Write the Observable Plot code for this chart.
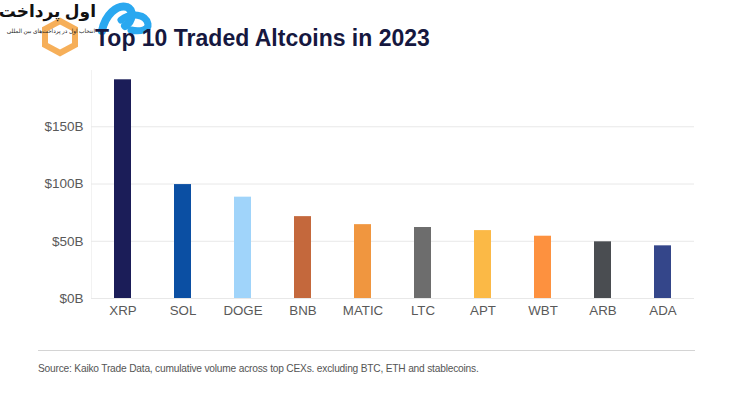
<!DOCTYPE html>
<html>
<head>
<meta charset="utf-8">
<script src="https://cdn.jsdelivr.net/npm/d3@7"></script>
<script src="https://cdn.jsdelivr.net/npm/@observablehq/plot@0.6"></script>
<style>
  html, body { margin: 0; padding: 0; background: #ffffff; }
  #page { position: relative; width: 738px; height: 410px; overflow: hidden; font-family: "Liberation Sans", Arial, sans-serif; }
  #title { position: absolute; left: 95px; top: 25px; font-size: 23px; font-weight: bold; color: #16183f; white-space: nowrap; z-index: 2; }
  #logo { position: absolute; left: 0; top: 0; z-index: 1; }
  #brand { position: absolute; left: 0; top: 0px; width: 96px; text-align: right; font-family: "Noto Sans", "DejaVu Sans", sans-serif; font-weight: bold; font-size: 17px; line-height: 22px; color: #111; direction: rtl; z-index: 4; white-space: nowrap; }
  #tagline { position: absolute; left: 2px; top: 27px; width: 93px; text-align: right; font-family: "Noto Sans", "DejaVu Sans", sans-serif; font-size: 5.8px; line-height: 8px; color: #222; direction: rtl; white-space: nowrap; z-index: 4; }
  #chart { position: absolute; left: 0; top: 50px; }
  #vline { position: absolute; left: 91px; top: 70px; width: 1px; height: 228px; background: #f2f2f2; }
  #rule { position: absolute; left: 38px; top: 350px; width: 657px; height: 1px; background: #d4d4d4; }
  #caption { position: absolute; left: 38px; top: 363px; font-size: 10.2px; color: #555; white-space: nowrap; letter-spacing: -0.2px; }
</style>
</head>
<body>
<div id="page">
  <svg id="logo" width="160" height="60" viewBox="0 0 160 60">
    <polygon points="60,21 75,29 75,45 60,53 45,45 45,29" fill="none" stroke="#f5a13c" stroke-width="6" opacity="0.85"/>
    <path d="M102,31 C105,15 117,4 127,7 C134,10 133,21 125,26" fill="none" stroke="#2aa8f0" stroke-width="8" stroke-linecap="round"/>
    <path d="M121,20 C131,12 146,14 148,24 C149,30 140,32 131,30" fill="none" stroke="#2aa8f0" stroke-width="7" stroke-linecap="round"/>
  </svg>
  <div id="brand">اول پرداخت</div>
  <div id="tagline">انتخاب اول در پرداخت‌های بین المللی</div>
  <div id="title">Top 10 Traded Altcoins in 2023</div>
  <div id="vline"></div>
  <div id="chart"></div>
  <div id="rule"></div>
  <div id="caption">Source: Kaiko Trade Data, cumulative volume across top CEXs. excluding BTC, ETH and stablecoins.</div>
</div>
<script>
const coins = ["XRP", "SOL", "DOGE", "BNB", "MATIC", "LTC", "APT", "WBT", "ARB", "ADA"];
const volumes = [191, 99.5, 88.5, 71.5, 64.5, 62, 59.3, 54.4, 49.5, 46];
const colors = ["#1b1d58", "#0b4fa3", "#a0d4fa", "#c4683c", "#f0963f", "#6d6d6d", "#fbb946", "#fd913f", "#4a4d51", "#34468a"];
const yTicks = [0, 50, 100, 150];

const data = coins.map((c, i) => ({coin: c, value: volumes[i], color: colors[i]}));

const chart = Plot.plot({
  width: 738,
  height: 278,
  marginLeft: 91,
  marginRight: 44,
  marginTop: 19,
  marginBottom: 30,
  style: {fontFamily: "'Liberation Sans', Arial, sans-serif", fontSize: "13px", color: "#595959", background: "transparent"},
  x: {domain: coins, paddingInner: 0.71, paddingOuter: 0.355, label: null, tickSize: 0, tickPadding: 7},
  y: {domain: [0, 200], ticks: yTicks, label: null},
  marks: [
    Plot.gridY(yTicks, {stroke: "#e8e8e8", strokeOpacity: 1}),
    Plot.barY(data, {x: "coin", y: "value", fill: "color"}),
    Plot.axisY(yTicks, {tickSize: 0, tickPadding: 8, tickFormat: d => `$${d}B`, fontSize: 13.5}),
    Plot.axisX({tickSize: 0, tickPadding: 7, fontSize: 13.3})
  ]
});
document.getElementById("chart").appendChild(chart);
</script>
</body>
</html>
